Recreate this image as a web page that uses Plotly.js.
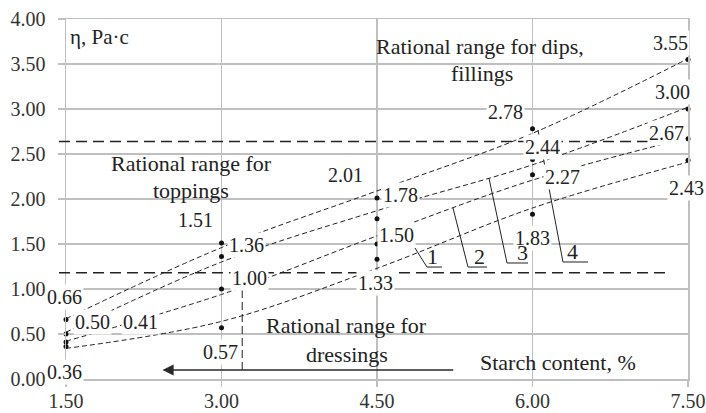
<!DOCTYPE html>
<html><head><meta charset="utf-8">
<script src="https://cdn.plot.ly/plotly-3.0.1.min.js"></script>
<style>html,body{margin:0;padding:0;background:#fff;} #chart{width:706px;height:413px;}</style>
</head><body><div id="chart"></div>
<script>
// ---- data ----
const starch = [1.5, 3.0, 4.5, 6.0, 7.5];
const xTickVals = [1.5, 3.0, 4.5, 6.0, 7.5];
const xTickText = ['1.50', '3.00', '4.50', '6.00', '7.50'];
const yTickVals = [0, 0.5, 1, 1.5, 2, 2.5, 3, 3.5, 4];
const yTickText = ['0.00', '0.50', '1.00', '1.50', '2.00', '2.50', '3.00', '3.50', '4.00'];
const visc1 = [0.66, 1.51, 2.01, 2.78, 3.55];
const visc2 = [0.50, 1.36, 1.78, 2.44, 3.00];
const visc3 = [0.41, 1.00, 1.50, 2.27, 2.67];
const visc4 = [0.36, 0.57, 1.33, 1.83, 2.43];
const trend1 = [0.67, 1.46, 2.09, 2.73, 3.56];
const trend2 = [0.52, 1.30, 1.87, 2.38, 3.02];
const trend3 = [0.42, 0.94, 1.59, 2.21, 2.68];
const trend4 = [0.34, 0.64, 1.23, 1.90, 2.41];
const curveNames = ['1', '2', '3', '4'];
const dipsLimit = 2.64;
const toppingsLimit = 1.18;
const dressingsLimitX = 3.2;
const arrowFromX = 5.25, arrowToX = 2.43, arrowY = 0.10;

// ---- styling ----
const FONT = '"Liberation Serif", "Times New Roman", Times, serif';
const GRID = '#bfbfbf';
const INK = '#222';
// label offsets in pixels [xshift, yshift] per series point
const labelShift = [
  [[-2, 23], [-26, 23], [-32, 23], [-27, 17], [-18, 17]],
  [[26, 12], [25, 12], [23, 24], [10, 12], [-16, 17]],
  [[74, 20], [28, 11], [19, 9], [30, -2], [-22, 6]],
  [[-2, -25], [-1, -24], [-2, -24], [0, -24], [-2, -28]]
];
const leaders = [
  {pts: [[4.866, 1.456], [4.982, 1.244], [5.127, 1.244]], lab: [5.04, 1.356]},
  {pts: [[5.233, 1.90], [5.378, 1.244], [5.561, 1.244]], lab: [5.493, 1.356]},
  {pts: [[5.58, 2.233], [5.754, 1.289], [5.957, 1.289]], lab: [5.899, 1.411]},
  {pts: [[6.053, 2.767], [6.294, 1.30], [6.535, 1.30]], lab: [6.39, 1.422]}
];

const series = [visc1, visc2, visc3, visc4];
const trends = [trend1, trend2, trend3, trend4];

const traces = [];
trends.forEach((t, i) => {
  traces.push({x: starch, y: t, mode: 'lines', type: 'scatter', name: 'trend ' + curveNames[i],
    line: {shape: 'spline', color: INK, width: 1, dash: '5px,3px'}, hoverinfo: 'skip'});
});
series.forEach((s, i) => {
  traces.push({x: starch, y: s, mode: 'markers', type: 'scatter', name: curveNames[i],
    marker: {color: '#111', size: 5}, cliponaxis: false});
});

const annotations = [];
series.forEach((s, i) => {
  s.forEach((v, j) => {
    annotations.push({x: starch[j], y: v, xref: 'x', yref: 'y', text: v.toFixed(2), showarrow: false,
      xshift: labelShift[i][j][0], yshift: labelShift[i][j][1],
      font: {family: FONT, size: 20, color: INK}, bgcolor: '#fff', borderpad: 1});
  });
});
leaders.forEach((l, i) => {
  annotations.push({x: l.lab[0], y: l.lab[1], text: curveNames[i], showarrow: false,
    font: {family: FONT, size: 22, color: INK}});
});
const texts = [
  {x: 5.493, y: 3.689, t: 'Rational range for dips,'},
  {x: 5.513, y: 3.40, t: 'fillings'},
  {x: 2.706, y: 2.40, t: 'Rational range for'},
  {x: 2.706, y: 2.10, t: 'toppings'},
  {x: 4.21, y: 0.60, t: 'Rational range for'},
  {x: 4.21, y: 0.267, t: 'dressings'},
  {x: 6.246, y: 0.178, t: 'Starch content, %'}
];
texts.forEach(o => annotations.push({x: o.x, y: o.y, text: o.t, showarrow: false,
  font: {family: FONT, size: 22, color: INK}}));
annotations.push({xref: 'paper', yref: 'paper', x: 0.003, y: 0.95, xanchor: 'left', yanchor: 'middle',
  text: 'η, Pa·c', showarrow: false, font: {family: FONT, size: 21, color: INK}});
annotations.push({x: arrowToX, y: arrowY, ax: arrowFromX, ay: arrowY, axref: 'x', ayref: 'y', text: '',
  showarrow: true, arrowhead: 2, arrowsize: 1.4, arrowwidth: 1.6, arrowcolor: '#2a2a2a'});

const shapes = [
  {type: 'line', xref: 'paper', yref: 'y', x0: -0.0113, x1: 0.971, y0: dipsLimit, y1: dipsLimit,
    line: {color: INK, width: 1.5, dash: '11px,6px'}},
  {type: 'line', xref: 'paper', yref: 'y', x0: -0.0113, x1: 0.968, y0: toppingsLimit, y1: toppingsLimit,
    line: {color: INK, width: 1.5, dash: '11px,6px'}},
  {type: 'line', xref: 'x', yref: 'y', x0: dressingsLimitX, x1: dressingsLimitX, y0: arrowY, y1: 1.02,
    line: {color: INK, width: 1, dash: '8px,4px'}}
];
leaders.forEach(l => {
  const p = l.pts;
  shapes.push({type: 'path', xref: 'x', yref: 'y',
    path: `M${p[0][0]},${p[0][1]} L${p[1][0]},${p[1][1]} L${p[2][0]},${p[2][1]}`,
    line: {color: INK, width: 1}});
});

const axisCommon = {showgrid: true, gridcolor: GRID, gridwidth: 1.5, showline: true, linecolor: GRID,
  linewidth: 1.5, mirror: true, ticks: 'outside', tickcolor: GRID, tickwidth: 1.5, zeroline: false,
  tickfont: {family: FONT, size: 20, color: '#333'}, tickmode: 'array'};

const layout = {
  width: 706, height: 413,
  font: {family: FONT, color: INK},
  margin: {l: 66, r: 18, t: 19, b: 34, pad: 0},
  paper_bgcolor: '#fff', plot_bgcolor: '#fff',
  showlegend: false,
  xaxis: Object.assign({}, axisCommon, {range: [1.5, 7.5], tickvals: xTickVals, ticktext: xTickText,
    ticklen: 6, ticklabelstandoff: -3}),
  yaxis: Object.assign({}, axisCommon, {range: [0, 4], tickvals: yTickVals, ticktext: yTickText,
    ticklen: 7, ticklabelstandoff: 8}),
  annotations: annotations,
  shapes: shapes
};
Plotly.newPlot('chart', traces, layout, {displayModeBar: false, staticPlot: true});
</script>
</body></html>
